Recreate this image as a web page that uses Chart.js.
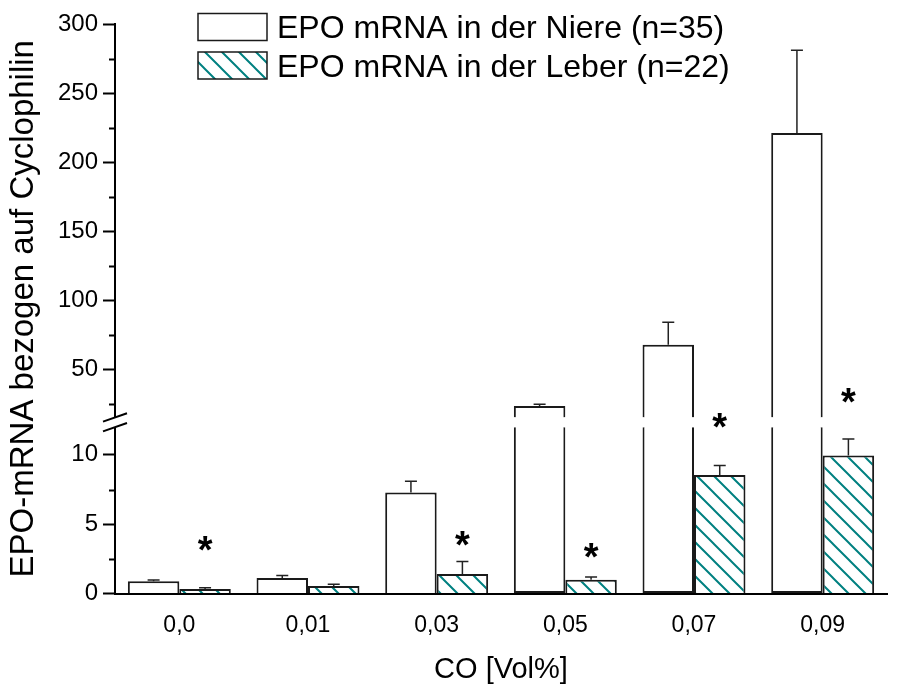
<!DOCTYPE html>
<html lang="de">
<head>
<meta charset="utf-8">
<title>EPO mRNA Niere / Leber</title>
<script src="https://cdn.jsdelivr.net/npm/chart.js@4.4.1/dist/chart.umd.min.js"></script>
<style>
  html, body { margin: 0; padding: 0; background: #fff; }
  canvas { display: block; }
</style>
</head>
<body>
<canvas id="epoChart" width="906" height="692"></canvas>
<script>
// CO-Konzentration [Vol%]
const kategorien = ["0,0", "0,01", "0,03", "0,05", "0,07", "0,09"];

// EPO-mRNA / Cyclophilin, Mittelwert und SD
const niere = [0.88, 1.12, 7.28, 23.2, 67.6, 221];
const niereSD = [0.09, 0.17, 0.82, 1.4, 16.4, 60];
const leber = [0.32, 0.54, 1.41, 0.99, 8.55, 9.95];
const leberSD = [0.1, 0.12, 0.89, 0.2, 0.69, 1.2];

// Signifikanz-Sterne über der Leber (Höhe in Einheiten der unteren Achse)
const sterne = [3.6, null, 4.0, 3.1, 12.5, 14.3];

// Achsenbruch: unten 0..12, oben 15..300
const bruchUnten = 12;
const bruchOben = 15;
const ticksUnten = [0, 5, 10];
const minorUnten = [2.5, 7.5];
const ticksOben = [50, 100, 150, 200, 250, 300];
const minorOben = [25, 75, 125, 175, 225, 275];

const schrift = "'Liberation Sans', Arial, sans-serif";
const teal = "rgb(0,128,128)";
const rand = "#1a1a1a";

const canvas = document.getElementById("epoChart");
const ctx = canvas.getContext("2d");

// Schraffur "\\\" für die Leber-Balken
function schraffur() {
    const s = 17;
    const c = document.createElement("canvas");
    c.width = s;
    c.height = s;
    const g = c.getContext("2d");
    g.fillStyle = "#fff";
    g.fillRect(0, 0, s, s);
    g.strokeStyle = teal;
    g.lineWidth = 2;
    g.beginPath();
    g.moveTo(-2, -2); g.lineTo(s + 2, s + 2);
    g.moveTo(-2, s - 2); g.lineTo(2, s + 2);
    g.moveTo(s - 2, -2); g.lineTo(s + 2, 2);
    g.stroke();
    return ctx.createPattern(c, "repeat");
}
const muster = schraffur();

// Fehlerbalken (nur nach oben)
const fehlerbalken = {
    id: "fehlerbalken",
    afterDatasetsDraw(chart) {
        const c = chart.ctx;
        c.save();
        c.strokeStyle = "#222";
        c.lineWidth = 1.5;
        [[0, niere, niereSD], [1, leber, leberSD]].forEach(([ds, werte, sd]) => {
            const meta = chart.getDatasetMeta(ds);
            werte.forEach((w, i) => {
                const skala = w > bruchUnten ? chart.scales.yOben : chart.scales.yUnten;
                const x = meta.data[i].x;
                const y0 = skala.getPixelForValue(w);
                const y1 = skala.getPixelForValue(w + sd[i]);
                c.beginPath();
                c.moveTo(x, y0);
                c.lineTo(x, y1);
                c.moveTo(x - 6, y1);
                c.lineTo(x + 6, y1);
                c.stroke();
            });
        });
        c.restore();
    }
};

// Sterne, kleine Ticks, Achsenbruch und Legende
const deko = {
    id: "deko",
    afterDraw(chart) {
        const c = chart.ctx;
        const unten = chart.scales.yUnten;
        const oben = chart.scales.yOben;
        const ax = unten.right;
        c.save();

        // kleine Ticks
        c.strokeStyle = "#000";
        c.lineWidth = 2;
        c.beginPath();
        minorUnten.forEach(v => {
            const y = Math.round(unten.getPixelForValue(v)) + 0.5;
            c.moveTo(ax - 6, y); c.lineTo(ax, y);
        });
        minorOben.forEach(v => {
            const y = Math.round(oben.getPixelForValue(v)) + 0.5;
            c.moveTo(ax - 6, y); c.lineTo(ax, y);
        });
        c.stroke();

        // Achsenbruch
        const yA = oben.getPixelForValue(bruchOben);
        const yB = unten.getPixelForValue(bruchUnten);
        c.fillStyle = "#fff";
        c.fillRect(ax - 3, yA, 6, yB - yA);
        c.beginPath();
        [yA, yB].forEach(y => {
            c.moveTo(ax - 12, y + 4.2);
            c.lineTo(ax + 12, y - 4.2);
        });
        c.stroke();

        // Sterne
        const meta = chart.getDatasetMeta(1);
        c.fillStyle = "#000";
        c.font = "bold 38px " + schrift;
        c.textAlign = "center";
        c.textBaseline = "alphabetic";
        const m = c.measureText("*");
        sterne.forEach((h, i) => {
            if (h === null) return;
            const cy = unten.getPixelForValue(h);
            c.fillText("*", meta.data[i].x, cy + (m.actualBoundingBoxAscent - m.actualBoundingBoxDescent) / 2);
        });

        // Legende
        c.font = "32px " + schrift;
        c.textAlign = "left";
        c.lineWidth = 1.5;
        c.strokeStyle = rand;
        [0, 1].forEach(k => {
            const ds = chart.data.datasets[k];
            const top = 13.5 + k * 38.5;
            c.fillStyle = ds.backgroundColor;
            c.fillRect(198, top, 69, 27);
            c.strokeRect(198, top, 69, 27);
            c.fillStyle = "#000";
            c.fillText(ds.label, 277, top + 13.5 + 11);
        });
        c.restore();
    }
};

const yTickFont = { family: schrift, size: 24 };
const xTickFont = { family: schrift, size: 23 };

new Chart(ctx, {
    type: "bar",
    data: {
        labels: kategorien,
        datasets: [
            {
                label: "EPO mRNA in der Niere (n=35)",
                data: niere.map(v => Math.min(v, bruchUnten)),
                yAxisID: "yUnten",
                stack: "niere",
                backgroundColor: "#fff",
                borderColor: rand,
                borderWidth: 2,
                borderSkipped: c => niere[c.dataIndex] > bruchUnten ? "top" : "start"
            },
            {
                label: "EPO mRNA in der Leber (n=22)",
                data: leber.map(v => Math.min(v, bruchUnten)),
                yAxisID: "yUnten",
                stack: "leber",
                backgroundColor: muster,
                borderColor: rand,
                borderWidth: 2,
                borderSkipped: c => leber[c.dataIndex] > bruchUnten ? "top" : "start"
            },
            {
                label: "Niere (oben)",
                data: niere.map(v => v > bruchUnten ? [bruchOben, v] : null),
                yAxisID: "yOben",
                stack: "niere",
                backgroundColor: "#fff",
                borderColor: rand,
                borderWidth: 2,
                borderSkipped: "bottom"
            },
            {
                label: "Leber (oben)",
                data: leber.map(v => v > bruchUnten ? [bruchOben, v] : null),
                yAxisID: "yOben",
                stack: "leber",
                backgroundColor: muster,
                borderColor: rand,
                borderWidth: 2,
                borderSkipped: "bottom"
            }
        ]
    },
    options: {
        responsive: false,
        animation: false,
        devicePixelRatio: 1,
        layout: { padding: { top: 24, right: 19, bottom: 0, left: 0 } },
        datasets: { bar: { categoryPercentage: 0.8, barPercentage: 1.0 } },
        plugins: { legend: { display: false }, tooltip: { enabled: false } },
        scales: {
            x: {
                type: "category",
                offset: true,
                grid: { display: false, drawTicks: false },
                border: { display: true, color: "#000", width: 2 },
                ticks: { font: xTickFont, color: "#000", padding: 18 },
                title: {
                    display: true,
                    text: "CO [Vol%]",
                    color: "#000",
                    font: { family: schrift, size: 29 },
                    padding: { top: 0, bottom: 5 }
                },
                afterFit: s => { s.height = 98.5; }
            },
            yTitel: {
                type: "linear",
                position: "left",
                weight: 10,
                min: 0,
                max: 1,
                grid: { display: false },
                border: { display: false },
                ticks: { display: false },
                title: {
                    display: true,
                    text: "EPO-mRNA bezogen auf Cyclophilin",
                    color: "#000",
                    font: { family: schrift, size: 33 },
                    padding: { top: 4, bottom: 0 }
                },
                afterFit: s => { s.width = 44; }
            },
            yOben: {
                type: "linear",
                position: "left",
                stack: "y",
                stackWeight: 393.3,
                weight: 2,
                stacked: false,
                min: bruchOben,
                max: 300,
                grid: { drawOnChartArea: false, tickLength: 12, tickColor: "#000", tickWidth: 2 },
                border: { color: "#000", width: 2 },
                ticks: { font: yTickFont, color: "#000", padding: 5 },
                afterBuildTicks: s => { s.ticks = ticksOben.map(v => ({ value: v })); },
                afterFit: s => { s.width = 71; }
            },
            yUnten: {
                type: "linear",
                position: "left",
                stack: "y",
                stackWeight: 176,
                weight: 1,
                stacked: false,
                min: 0,
                max: 12.7,
                grid: { drawOnChartArea: false, tickLength: 12, tickColor: "#000", tickWidth: 2 },
                border: { color: "#000", width: 2 },
                ticks: { font: yTickFont, color: "#000", padding: 5 },
                afterBuildTicks: s => { s.ticks = ticksUnten.map(v => ({ value: v })); },
                afterFit: s => { s.width = 71; }
            }
        }
    },
    plugins: [fehlerbalken, deko]
});
</script>
</body>
</html>
